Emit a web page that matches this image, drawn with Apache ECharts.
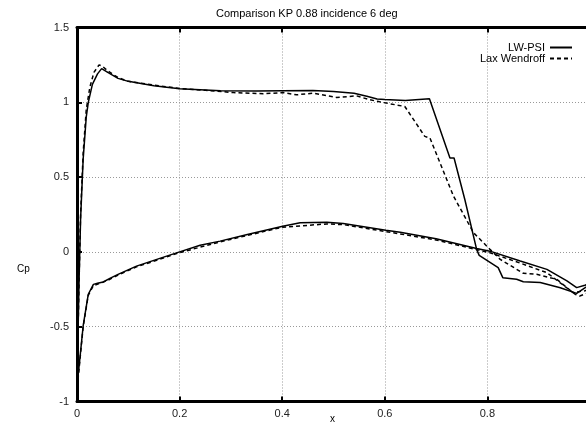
<!DOCTYPE html>
<html>
<head>
<meta charset="utf-8">
<script src="https://cdn.jsdelivr.net/npm/echarts@6/dist/echarts.min.js"></script>
<style>
  html, body { margin: 0; padding: 0; background: #fff; }
  #chart { width: 586px; height: 429px; }
</style>
</head>
<body>
<div id="chart"></div>
<script>
// pressure coefficient along the airfoil, [x, Cp]
const lwUpper = [
  [0, -0.88], [0.004, -0.2], [0.007, 0.22], [0.012, 0.62], [0.018, 0.9], [0.022, 1.0],
  [0.03, 1.12], [0.04, 1.19], [0.048, 1.225], [0.06, 1.2], [0.08, 1.16], [0.1, 1.14],
  [0.15, 1.11], [0.2, 1.09], [0.28, 1.078], [0.35, 1.075], [0.4, 1.077], [0.46, 1.079],
  [0.5, 1.072], [0.54, 1.06], [0.565, 1.04], [0.585, 1.022], [0.6, 1.018], [0.64, 1.012],
  [0.687, 1.023], [0.727, 0.628], [0.735, 0.628], [0.756, 0.35], [0.779, 0.017],
  [0.784, -0.023], [0.821, -0.105], [0.83, -0.172], [0.857, -0.183], [0.87, -0.2],
  [0.903, -0.205], [0.942, -0.24], [0.974, -0.277], [0.99, -0.24], [1.0, -0.22]
];
const lwLower = [
  [0, -0.88], [0.003, -0.8], [0.012, -0.495], [0.022, -0.283], [0.032, -0.217], [0.04, -0.21],
  [0.051, -0.201], [0.065, -0.175], [0.08, -0.15], [0.116, -0.095], [0.16, -0.045], [0.2, 0.0],
  [0.24, 0.045], [0.279, 0.072], [0.33, 0.115], [0.401, 0.172], [0.435, 0.195], [0.487, 0.199],
  [0.519, 0.19], [0.602, 0.145], [0.63, 0.132], [0.7, 0.088], [0.779, 0.023], [0.805, 0.005],
  [0.864, -0.061], [0.916, -0.117], [0.955, -0.194], [0.974, -0.239], [0.99, -0.223], [1.0, -0.21]
];
const laxUpper = [
  [0, -0.9], [0.004, -0.2], [0.007, 0.25], [0.012, 0.66], [0.018, 0.95], [0.025, 1.1],
  [0.033, 1.2], [0.043, 1.25], [0.05, 1.24], [0.06, 1.21], [0.08, 1.165], [0.1, 1.14],
  [0.15, 1.115], [0.2, 1.092], [0.25, 1.08], [0.305, 1.065], [0.363, 1.057], [0.402, 1.065],
  [0.428, 1.05], [0.461, 1.061], [0.506, 1.032], [0.545, 1.043], [0.571, 1.017], [0.59, 1.003],
  [0.639, 0.972], [0.678, 0.772], [0.688, 0.761], [0.734, 0.372], [0.773, 0.128], [0.805, 0.017],
  [0.825, -0.05], [0.87, -0.143], [0.896, -0.15], [0.935, -0.183], [0.971, -0.283],
  [0.98, -0.295], [1.0, -0.27]
];
const laxLower = [
  [0, -0.9], [0.003, -0.82], [0.012, -0.5], [0.022, -0.29], [0.032, -0.225], [0.045, -0.21],
  [0.06, -0.19], [0.08, -0.155], [0.116, -0.1], [0.2, -0.005], [0.28, 0.068], [0.4, 0.165],
  [0.487, 0.187], [0.52, 0.182], [0.6, 0.137], [0.7, 0.08], [0.805, -0.006], [0.864, -0.075],
  [0.916, -0.139], [0.967, -0.272], [0.99, -0.26], [1.0, -0.25]
];
const seriesNames = ['LW-PSI', 'Lax Wendroff'];

const chart = echarts.init(document.getElementById('chart'));

const font = 'Liberation Sans, Arial, sans-serif';
const tickStyle = { show: true, inside: true, length: 5, lineStyle: { color: '#000', width: 2 } };
const gridLine = { show: true, lineStyle: { color: '#999', width: 1, type: [1, 2] } };
const legendText = { fontSize: 11, color: '#000', fontFamily: font };

function curve(name, data, dashed) {
  return {
    name: name,
    type: 'line',
    data: data,
    symbol: 'none',
    animation: false,
    lineStyle: { color: '#000', width: 1.5, type: dashed ? [4, 3] : 'solid' },
    itemStyle: { color: '#000' }
  };
}

chart.setOption({
  animation: false,
  title: {
    text: 'Comparison KP 0.88 incidence 6 deg',
    left: 211,
    top: 3,
    textStyle: { fontSize: 11, fontWeight: 'normal', color: '#000', fontFamily: font }
  },
  legend: [
    {
      data: [seriesNames[0]], right: 8, top: 37, align: 'right',
      itemWidth: 22, itemHeight: 12, itemStyle: { opacity: 0 },
      textStyle: legendText
    },
    {
      data: [seriesNames[1]], right: 8, top: 48, align: 'right',
      itemWidth: 22, itemHeight: 12, itemStyle: { opacity: 0 },
      textStyle: legendText
    }
  ],
  grid: { left: 77, top: 27.5, width: 513, height: 374, containLabel: false, outerBoundsMode: 'none' },
  xAxis: [
    {
      type: 'value', min: 0, max: 1, interval: 0.2, position: 'bottom',
      axisLine: { onZero: false, lineStyle: { color: '#000', width: 3 } },
      axisTick: tickStyle,
      axisLabel: { fontSize: 11, color: '#222', margin: 7, fontFamily: font, showMaxLabel: false },
      splitLine: gridLine
    },
    {
      type: 'value', min: 0, max: 1, interval: 0.2, position: 'top',
      axisLine: { show: true, onZero: false, lineStyle: { color: '#000', width: 3 } },
      axisTick: tickStyle,
      axisLabel: { show: false },
      splitLine: { show: false }
    }
  ],
  yAxis: {
    type: 'value', min: -1, max: 1.5, interval: 0.5,
    axisLine: { onZero: false, lineStyle: { color: '#000', width: 3 } },
    axisTick: tickStyle,
    axisLabel: { fontSize: 11, color: '#222', margin: 8, fontFamily: font },
    splitLine: gridLine
  },
  graphic: [
    {
      type: 'text', left: 17, top: 264,
      style: { text: 'Cp', fontSize: 10, fill: '#000', fontFamily: font }
    },
    {
      type: 'text', left: 330, top: 414,
      style: { text: 'x', fontSize: 10, fill: '#000', fontFamily: font }
    }
  ],
  series: [
    curve(seriesNames[0], lwUpper, false),
    curve(seriesNames[0], lwLower, false),
    curve(seriesNames[1], laxUpper, true),
    curve(seriesNames[1], laxLower, true)
  ]
});
</script>
</body>
</html>
